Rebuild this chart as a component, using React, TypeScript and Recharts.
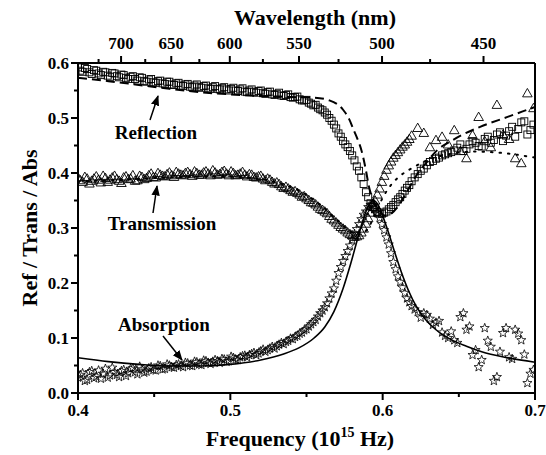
import React from 'react';
import { ComposedChart, Scatter, Line, XAxis, YAxis, ReferenceLine } from 'recharts';

// ---- measured data (shared frequency grid, 10^15 Hz) ----
const freq = [
  0.400, 0.403, 0.406, 0.409, 0.412, 0.415, 0.418, 0.421, 0.424, 0.427,
  0.430, 0.433, 0.436, 0.439, 0.442, 0.445, 0.448, 0.451, 0.454, 0.457,
  0.460, 0.463, 0.466, 0.469, 0.472, 0.475, 0.478, 0.481, 0.484, 0.487,
  0.490, 0.493, 0.496, 0.499, 0.502, 0.505, 0.508, 0.511, 0.514, 0.517,
  0.520, 0.523, 0.526, 0.529, 0.532, 0.535, 0.538, 0.541, 0.544, 0.547,
  0.550, 0.553, 0.556, 0.559,
  0.562, 0.565, 0.568, 0.571, 0.574, 0.577, 0.580, 0.583, 0.586, 0.589,
  0.592, 0.595, 0.598, 0.601, 0.604, 0.607, 0.610, 0.613, 0.616, 0.619,
  0.623, 0.627, 0.631, 0.635, 0.639, 0.643, 0.647, 0.651, 0.655, 0.659,
  0.663, 0.667, 0.671, 0.675, 0.679, 0.683, 0.687, 0.691, 0.695, 0.699,
];

const reflection = [
  0.592, 0.584, 0.589, 0.580, 0.586, 0.578, 0.583, 0.575, 0.581, 0.574,
  0.578, 0.571, 0.576, 0.568, 0.573, 0.566, 0.571, 0.564, 0.568, 0.562,
  0.566, 0.560, 0.564, 0.558, 0.562, 0.556, 0.561, 0.555, 0.559, 0.553,
  0.558, 0.552, 0.556, 0.550, 0.555, 0.549, 0.554, 0.547, 0.552, 0.546,
  0.550, 0.544, 0.548, 0.542, 0.546, 0.540, 0.543, 0.537, 0.539, 0.532,
  0.533, 0.526, 0.524, 0.516,
  0.510, 0.500, 0.488, 0.472, 0.458, 0.447, 0.432, 0.412, 0.392, 0.365,
  0.345, 0.334, 0.326, 0.328, 0.334, 0.342, 0.352, 0.362, 0.373, 0.385,
  0.398, 0.408, 0.420, 0.426, 0.432, 0.436, 0.441, 0.452, 0.444, 0.458,
  0.449, 0.462, 0.455, 0.470, 0.458, 0.476, 0.466, 0.492, 0.470, 0.488,
];

const transmission = [
  0.392, 0.384, 0.390, 0.386, 0.394, 0.383, 0.391, 0.388, 0.395, 0.386,
  0.392, 0.389, 0.396, 0.387, 0.393, 0.391, 0.399, 0.392, 0.397, 0.394,
  0.401, 0.393, 0.399, 0.396, 0.402, 0.395, 0.400, 0.397, 0.403, 0.396,
  0.401, 0.398, 0.404, 0.396, 0.400, 0.397, 0.402, 0.394, 0.397, 0.392,
  0.395, 0.387, 0.388, 0.381, 0.380, 0.373, 0.372, 0.366, 0.364, 0.357,
  0.354, 0.347, 0.343, 0.335,
  0.330, 0.322, 0.314, 0.306, 0.299, 0.292, 0.287, 0.285, 0.292, 0.308,
  0.328, 0.350, 0.372, 0.395, 0.414, 0.428, 0.438, 0.448, 0.457, 0.468,
  0.482, 0.473, 0.447, 0.460, 0.466, 0.452, 0.478, 0.440, 0.427, 0.469,
  0.502, 0.458, 0.447, 0.524, 0.470, 0.462, 0.427, 0.418, 0.545, 0.518,
];

const absorption = [
  0.028, 0.036, 0.024, 0.040, 0.030, 0.026, 0.044, 0.032, 0.038, 0.029,
  0.042, 0.036, 0.045, 0.034, 0.043, 0.039, 0.047, 0.041, 0.049, 0.044,
  0.050, 0.046, 0.052, 0.047, 0.054, 0.049, 0.056, 0.051, 0.058, 0.053,
  0.060, 0.055, 0.061, 0.058, 0.064, 0.060, 0.067, 0.065, 0.071, 0.069,
  0.076, 0.075, 0.081, 0.081, 0.088, 0.089, 0.095, 0.098, 0.104, 0.110,
  0.116, 0.125, 0.133, 0.145,
  0.156, 0.172, 0.190, 0.218, 0.240, 0.258, 0.278, 0.298, 0.316, 0.330,
  0.342, 0.335, 0.318, 0.296, 0.270, 0.238, 0.212, 0.192, 0.172, 0.158,
  0.147, 0.145, 0.135, 0.128, 0.110, 0.100, 0.096, 0.138, 0.115, 0.069,
  0.047, 0.118, 0.084, 0.029, 0.109, 0.065, 0.115, 0.096, 0.018, 0.042,
];

// ---- additional interleaved measurements (dense part of the spectrum) ----
const freqDense = [
  0.4015, 0.4045, 0.4075, 0.4105, 0.4135, 0.4165, 0.4195, 0.4225, 0.4255, 0.4285,
  0.4315, 0.4345, 0.4375, 0.4405, 0.4435, 0.4465, 0.4495, 0.4525, 0.4555, 0.4585,
  0.4615, 0.4645, 0.4675, 0.4705, 0.4735, 0.4765, 0.4795, 0.4825, 0.4855, 0.4885,
  0.4915, 0.4945, 0.4975, 0.5005, 0.5035, 0.5065, 0.5095, 0.5125, 0.5155, 0.5185,
  0.5215, 0.5245, 0.5275, 0.5305, 0.5335, 0.5365, 0.5395, 0.5425, 0.5455, 0.5485,
  0.5515, 0.5545, 0.5575,
  0.5605, 0.5635, 0.5665, 0.5695, 0.5725, 0.5755, 0.5785, 0.5815, 0.5845, 0.5875,
  0.5905, 0.5935, 0.5965, 0.5995, 0.6025, 0.6055, 0.6085, 0.6115, 0.6145, 0.6175,
];

const reflectionDense = [
  0.586, 0.591, 0.583, 0.587, 0.581, 0.584, 0.577, 0.582, 0.576, 0.579,
  0.573, 0.575, 0.571, 0.574, 0.567, 0.570, 0.565, 0.567, 0.563, 0.566,
  0.561, 0.563, 0.559, 0.561, 0.557, 0.559, 0.556, 0.558, 0.554, 0.556,
  0.553, 0.555, 0.552, 0.553, 0.550, 0.552, 0.548, 0.550, 0.547, 0.549,
  0.545, 0.547, 0.543, 0.544, 0.541, 0.542, 0.538, 0.538, 0.534, 0.532,
  0.528, 0.523, 0.519,
  0.514, 0.506, 0.495, 0.481, 0.466, 0.452, 0.440, 0.423, 0.404, 0.380,
  0.356, 0.338, 0.329, 0.326, 0.330, 0.338, 0.347, 0.356, 0.368, 0.378,
];

const transmissionDense = [
  0.387, 0.393, 0.381, 0.390, 0.388, 0.395, 0.384, 0.392, 0.389, 0.382,
  0.394, 0.390, 0.386, 0.395, 0.389, 0.396, 0.393, 0.400, 0.395, 0.398,
  0.396, 0.402, 0.397, 0.400, 0.398, 0.403, 0.397, 0.401, 0.399, 0.405,
  0.397, 0.402, 0.399, 0.403, 0.396, 0.399, 0.397, 0.398, 0.393, 0.394,
  0.390, 0.390, 0.384, 0.383, 0.376, 0.375, 0.369, 0.367, 0.361, 0.358,
  0.351, 0.346, 0.339,
  0.333, 0.327, 0.317, 0.310, 0.302, 0.296, 0.289, 0.284, 0.287, 0.299,
  0.318, 0.339, 0.361, 0.384, 0.406, 0.421, 0.433, 0.443, 0.452, 0.462,
];

const absorptionDense = [
  0.033, 0.022, 0.038, 0.027, 0.041, 0.035, 0.028, 0.046, 0.033, 0.040,
  0.031, 0.044, 0.038, 0.048, 0.037, 0.045, 0.042, 0.050, 0.043, 0.052,
  0.047, 0.051, 0.049, 0.055, 0.050, 0.057, 0.052, 0.059, 0.055, 0.057,
  0.058, 0.062, 0.057, 0.066, 0.061, 0.065, 0.068, 0.069, 0.073, 0.072,
  0.079, 0.078, 0.084, 0.085, 0.091, 0.093, 0.099, 0.102, 0.108, 0.114,
  0.121, 0.129, 0.139,
  0.150, 0.163, 0.181, 0.204, 0.229, 0.249, 0.268, 0.289, 0.307, 0.324,
  0.338, 0.341, 0.327, 0.307, 0.283, 0.254, 0.225, 0.202, 0.182, 0.165,
];

// ---- extra readings in the blue end (reflection and absorption only) ----
const freqBlue = [
  0.621, 0.625, 0.629, 0.633, 0.637, 0.641, 0.645, 0.649, 0.653, 0.657,
  0.661, 0.665, 0.669, 0.673, 0.677, 0.681, 0.685, 0.689, 0.693, 0.697,
];
const reflectionBlue = [
  0.392, 0.404, 0.414, 0.422, 0.428, 0.434, 0.438, 0.446, 0.440, 0.452,
  0.455, 0.448, 0.466, 0.460, 0.474, 0.468, 0.484, 0.480, 0.494, 0.478,
];
const absorptionBlue = [
  0.152, 0.137, 0.142, 0.124, 0.131, 0.104, 0.112, 0.091, 0.145, 0.121,
  0.078, 0.060, 0.095, 0.022, 0.075, 0.118, 0.062, 0.108, 0.070, 0.035,
];

// ---- fitted curves ----
const reflFitF = [0.400, 0.420, 0.440, 0.460, 0.480, 0.500, 0.520, 0.540, 0.555, 0.565, 0.574, 0.578, 0.581, 0.584, 0.586, 0.589, 0.591, 0.594, 0.598, 0.602, 0.606, 0.611, 0.616, 0.622, 0.629, 0.636, 0.645, 0.652, 0.664, 0.682, 0.700];
const reflFitV = [0.573, 0.567, 0.560, 0.553, 0.547, 0.543, 0.540, 0.538, 0.537, 0.532, 0.515, 0.498, 0.478, 0.458, 0.442, 0.405, 0.375, 0.350, 0.330, 0.322, 0.327, 0.343, 0.366, 0.395, 0.420, 0.442, 0.458, 0.469, 0.484, 0.502, 0.520];

const transFitF = [0.400, 0.430, 0.460, 0.490, 0.510, 0.530, 0.545, 0.560, 0.570, 0.578, 0.584, 0.590, 0.595, 0.600, 0.606, 0.612, 0.620, 0.630, 0.645, 0.660, 0.680, 0.700];
const transFitV = [0.385, 0.388, 0.392, 0.394, 0.392, 0.383, 0.368, 0.340, 0.315, 0.296, 0.288, 0.298, 0.325, 0.355, 0.380, 0.396, 0.410, 0.424, 0.435, 0.439, 0.436, 0.428];

const absFitF = [0.400, 0.420, 0.440, 0.460, 0.480, 0.500, 0.520, 0.535, 0.545, 0.555, 0.562, 0.568, 0.574, 0.579, 0.584, 0.588, 0.591, 0.594, 0.597, 0.600, 0.604, 0.608, 0.612, 0.617, 0.622, 0.628, 0.635, 0.645, 0.655, 0.665, 0.680, 0.700];
const absFitV = [0.064, 0.057, 0.052, 0.049, 0.049, 0.052, 0.060, 0.071, 0.082, 0.100, 0.120, 0.148, 0.190, 0.235, 0.285, 0.322, 0.342, 0.350, 0.342, 0.322, 0.290, 0.255, 0.222, 0.186, 0.158, 0.134, 0.115, 0.097, 0.085, 0.075, 0.065, 0.056];

// ---- axis ticks ----
const bottomTicks = [0.4, 0.45, 0.5, 0.55, 0.6, 0.65, 0.7];
const leftTicks = [0, 0.05, 0.1, 0.15, 0.2, 0.25, 0.3, 0.35, 0.4, 0.45, 0.5, 0.55, 0.6];
const wavelengthMajor = [700, 650, 600, 550, 500, 450];
const wavelengthMinor = [725, 675, 625, 575, 525, 475];
const C_NM = 299.792458; // f (10^15 Hz) = C_NM / lambda(nm)

const topTicks = [...wavelengthMajor, ...wavelengthMinor]
  .map((w) => C_NM / w)
  .sort((a, b) => a - b);

const pts = (fs: number[], vals: number[]) => vals.map((v, i) => ({ f: fs[i], v }));

const reflData = [...pts(freq, reflection), ...pts(freqDense, reflectionDense), ...pts(freqBlue, reflectionBlue)];
const transData = [...pts(freq, transmission), ...pts(freqDense, transmissionDense)];
const absData = [...pts(freq, absorption), ...pts(freqDense, absorptionDense), ...pts(freqBlue, absorptionBlue)];
const reflFit = pts(reflFitF, reflFitV);
const transFit = pts(transFitF, transFitV);
const absFit = pts(absFitF, absFitV);

const FONT = "'Liberation Serif', 'Times New Roman', serif";
const tickFont: React.CSSProperties = { fontFamily: FONT, fontWeight: 700, fontSize: 17, fill: '#000' };

const isMajor10 = (v: number) => Math.abs(v * 10 - Math.round(v * 10)) < 1e-6;

const BottomTick = (p: any) => {
  const { x, y, payload } = p;
  const major = isMajor10(payload.value);
  return (
    <g>
      <line x1={x} y1={y} x2={x} y2={y + (major ? 7 : 4)} stroke="#000" strokeWidth={2} />
      {major && (
        <text x={x} y={y + 23} textAnchor="middle" style={tickFont}>
          {payload.value.toFixed(1)}
        </text>
      )}
    </g>
  );
};

const LeftTick = (p: any) => {
  const { x, y, payload } = p;
  const major = isMajor10(payload.value);
  return (
    <g>
      <line x1={x} y1={y} x2={x - (major ? 7 : 4)} y2={y} stroke="#000" strokeWidth={2} />
      {major && (
        <text x={x - 9} y={y + 6} textAnchor="end" style={tickFont}>
          {payload.value.toFixed(1)}
        </text>
      )}
    </g>
  );
};

const TopTick = (p: any) => {
  const { x, y, payload } = p;
  const wl = Math.round(C_NM / payload.value);
  const major = wavelengthMajor.includes(wl);
  return (
    <g>
      <line x1={x} y1={y} x2={x} y2={y - (major ? 7 : 4)} stroke="#000" strokeWidth={2} />
      {major && (
        <text x={x} y={y - 14} textAnchor="middle" style={tickFont}>
          {wl}
        </text>
      )}
    </g>
  );
};

const SquareShape = (p: any) => {
  const { cx, cy } = p;
  if (cx == null || cy == null) return null;
  return <rect x={cx - 3.5} y={cy - 3.5} width={7} height={7} fill="none" stroke="#000" strokeWidth={0.9} />;
};

const TriangleShape = (p: any) => {
  const { cx, cy } = p;
  if (cx == null || cy == null) return null;
  const d = `${cx},${cy - 4.8} ${cx - 4.8},${cy + 3.6} ${cx + 4.8},${cy + 3.6}`;
  return <polygon points={d} fill="none" stroke="#000" strokeWidth={0.9} />;
};

const StarShape = (p: any) => {
  const { cx, cy } = p;
  if (cx == null || cy == null) return null;
  const arr: string[] = [];
  for (let i = 0; i < 10; i++) {
    const a = -Math.PI / 2 + (i * Math.PI) / 5;
    const r = i % 2 === 0 ? 4.8 : 2.0;
    arr.push(`${cx + r * Math.cos(a)},${cy + r * Math.sin(a)}`);
  }
  return <polygon points={arr.join(' ')} fill="none" stroke="#000" strokeWidth={0.8} />;
};

const titleStyle: React.CSSProperties = { fontFamily: FONT, fontWeight: 700, fontSize: 22, fill: '#000' };
const annStyle: React.CSSProperties = { fontFamily: FONT, fontWeight: 700, fontSize: 19, fill: '#000' };

export default function App() {
  return (
    <div style={{ position: 'absolute', left: 0, top: 0, width: 546, height: 455, background: '#fff' }}>
      <ComposedChart
        width={546}
        height={455}
        margin={{ top: 23, right: 11, bottom: 22, left: 18 }}
      >
        <XAxis
          xAxisId="bottom"
          dataKey="f"
          type="number"
          domain={[0.4, 0.7]}
          allowDataOverflow
          ticks={bottomTicks}
          interval={0}
          tickLine={false}
          tickSize={0}
          tickMargin={0}
          height={40}
          axisLine={{ stroke: '#000', strokeWidth: 2 }}
          tick={(p: any) => <BottomTick {...p} />}
        />
        <XAxis
          xAxisId="top"
          orientation="top"
          dataKey="f"
          type="number"
          domain={[0.4, 0.7]}
          allowDataOverflow
          ticks={topTicks}
          interval={0}
          tickLine={false}
          tickSize={0}
          tickMargin={0}
          height={40}
          axisLine={{ stroke: '#000', strokeWidth: 2 }}
          tick={(p: any) => <TopTick {...p} />}
        />
        <YAxis
          yAxisId="left"
          dataKey="v"
          type="number"
          domain={[0, 0.6]}
          allowDataOverflow
          ticks={leftTicks}
          interval={0}
          tickLine={false}
          tickSize={0}
          tickMargin={0}
          width={60}
          axisLine={{ stroke: '#000', strokeWidth: 2 }}
          tick={(p: any) => <LeftTick {...p} />}
        />
        <ReferenceLine xAxisId="bottom" yAxisId="left" x={0.7} stroke="#000" strokeWidth={2} />
        <Scatter name="Reflection" data={reflData} xAxisId="bottom" yAxisId="left" shape={(p: any) => <SquareShape {...p} />} isAnimationActive={false} />
        <Scatter name="Transmission" data={transData} xAxisId="bottom" yAxisId="left" shape={(p: any) => <TriangleShape {...p} />} isAnimationActive={false} />
        <Scatter name="Absorption" data={absData} xAxisId="bottom" yAxisId="left" shape={(p: any) => <StarShape {...p} />} isAnimationActive={false} />
        <Line data={reflFit} dataKey="v" xAxisId="bottom" yAxisId="left" type="monotone" stroke="#000" strokeWidth={2} strokeDasharray="9 5" dot={false} activeDot={false} isAnimationActive={false} />
        <Line data={transFit} dataKey="v" xAxisId="bottom" yAxisId="left" type="monotone" stroke="#000" strokeWidth={2} strokeDasharray="1.5 7" strokeLinecap="round" dot={false} activeDot={false} isAnimationActive={false} />
        <Line data={absFit} dataKey="v" xAxisId="bottom" yAxisId="left" type="monotone" stroke="#000" strokeWidth={1.6} dot={false} activeDot={false} isAnimationActive={false} />
      </ComposedChart>
      <svg
        width={546}
        height={455}
        style={{ position: 'absolute', left: 0, top: 0, pointerEvents: 'none' }}
      >
        <defs>
          <marker id="ah" viewBox="0 0 10 10" refX="9" refY="5" markerWidth="7" markerHeight="7" orient="auto">
            <path d="M0,1 L10,5 L0,9 z" fill="#000" />
          </marker>
        </defs>
        <text x={315} y={25} textAnchor="middle" style={titleStyle}>Wavelength (nm)</text>
        <text x={300} y={446} textAnchor="middle" style={titleStyle}>
          Frequency (10<tspan fontSize={14} dy={-9}>15</tspan><tspan dy={9}> Hz)</tspan>
        </text>
        <text transform="translate(37,228) rotate(-90)" textAnchor="middle" style={titleStyle}>Ref / Trans / Abs</text>

        <text x={156} y={139} textAnchor="middle" style={annStyle}>Reflection</text>
        <line x1={150} y1={120} x2={158} y2={96} stroke="#000" strokeWidth={1.5} markerEnd="url(#ah)" />

        <text x={162} y={230} textAnchor="middle" style={annStyle}>Transmission</text>
        <line x1={153} y1={213} x2={157} y2={186} stroke="#000" strokeWidth={1.5} markerEnd="url(#ah)" />

        <text x={164} y={331} textAnchor="middle" style={annStyle}>Absorption</text>
        <line x1={163} y1={336} x2={182} y2={360} stroke="#000" strokeWidth={1.5} markerEnd="url(#ah)" />
      </svg>
    </div>
  );
}
